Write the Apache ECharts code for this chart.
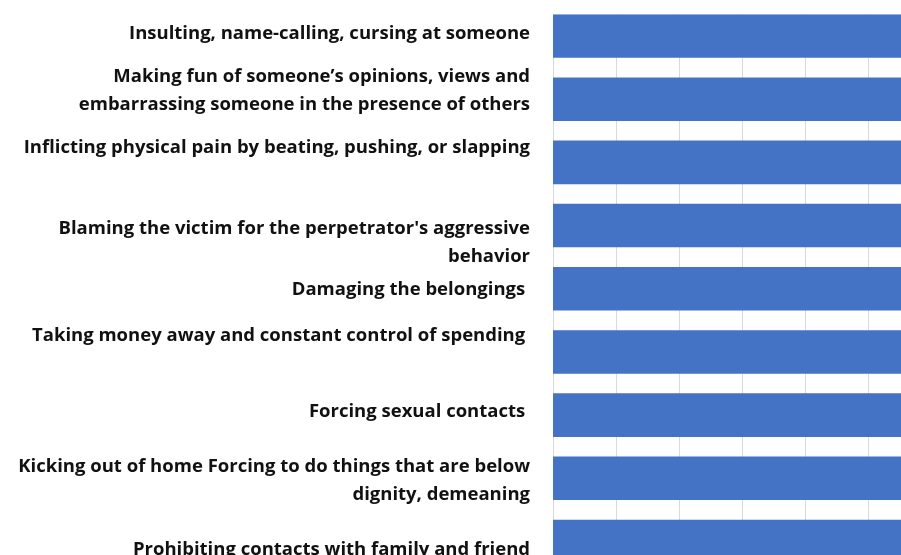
<!DOCTYPE html>
<html>
<head>
<meta charset="utf-8">
<script src="https://cdn.jsdelivr.net/npm/echarts@6/dist/echarts.min.js"></script>
<style>
  html, body { margin: 0; padding: 0; background: #ffffff; }
  #chart { width: 901px; height: 555px; }
</style>
</head>
<body>
<div id="chart"></div>
<script>
// Forms of abuse, listed top to bottom
const categories = [
  'Insulting, name-calling, cursing at someone',
  'Making fun of someone\u2019s opinions, views and\nembarrassing someone in the presence of others',
  'Inflicting physical pain by beating, pushing, or slapping',
  "Blaming the victim for the perpetrator's aggressive\nbehavior",
  'Damaging the belongings ',
  'Taking money away and constant control of spending ',
  'Forcing sexual contacts ',
  'Kicking out of home Forcing to do things that are below\ndignity, demeaning',
  'Prohibiting contacts with family and friend'
];

// Share of respondents (%) for each form
const values = [92, 86, 74, 81, 69, 72, 63, 77, 66];

// Value axis settings
const axisMin = 0;
const axisMax = 100;
const axisInterval = 10;

// Vertical nudge (px) of each category caption relative to its bar centre
const labelShift = [-2, -8.5, -14.5, 17.5, 1, -16, -3.5, 2, 8.5];

const chart = echarts.init(document.getElementById('chart'), null, { renderer: 'canvas' });

const option = {
  animation: false,
  backgroundColor: '#ffffff',
  grid: {
    left: 553,
    top: 4.4,
    width: 631,
    height: 568.7,
    containLabel: false,
    outerBoundsMode: 'none'
  },
  xAxis: {
    type: 'value',
    min: axisMin,
    max: axisMax,
    interval: axisInterval,
    axisLine: { show: false },
    axisTick: { show: false },
    axisLabel: { show: false },
    splitLine: { show: true, lineStyle: { color: '#d9d9d9', width: 1 } }
  },
  yAxis: {
    type: 'category',
    inverse: true,
    data: categories,
    axisLine: { show: true, lineStyle: { color: '#d9d9d9', width: 1 } },
    axisTick: { show: false },
    axisLabel: { show: false }
  },
  series: [{
    type: 'bar',
    data: values,
    barCategoryGap: '31%',
    itemStyle: { color: '#4472c4' },
    silent: true
  }]
};

chart.setOption(option);

// Category captions placed beside their bars, and a white band hiding the
// grid above the first bar
const captionRight = option.grid.left - 23;
const graphics = categories.map((name, i) => {
  const yc = chart.convertToPixel({ yAxisIndex: 0 }, i);
  return {
    type: 'text',
    x: captionRight,
    y: yc + labelShift[i],
    silent: true,
    style: {
      text: name,
      align: 'right',
      verticalAlign: 'middle',
      fontFamily: 'Open Sans',
      fontWeight: 'bold',
      fontSize: 18.5,
      lineHeight: 28,
      fill: '#111111'
    }
  };
});
const firstBarTop = chart.convertToPixel({ yAxisIndex: 0 }, 0) - 21.75;
graphics.push({
  type: 'rect',
  silent: true,
  z: 100,
  shape: { x: option.grid.left - 2, y: 0, width: 901 - option.grid.left + 2, height: firstBarTop },
  style: { fill: '#ffffff' }
});
chart.setOption({ graphic: graphics });
</script>
</body>
</html>
